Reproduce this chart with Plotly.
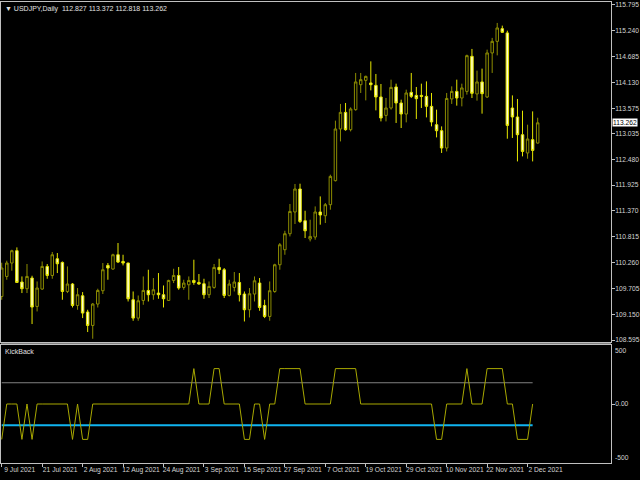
import pandas as pd
import plotly.graph_objects as go

# ---------------- data ----------------
dates = [d.strftime("%Y-%m-%d") for d in pd.bdate_range("2021-07-09", "2021-12-06")]

opens = [109.531, 109.961, 110.249, 110.514, 109.841, 109.697, 109.927, 109.316, 109.690, 110.176,
         109.982, 110.341, 110.262, 109.638, 109.798, 109.337, 109.546, 109.196, 108.908, 109.368,
         109.654, 110.198, 110.120, 110.427, 110.283, 110.249, 109.460, 109.066, 109.445, 109.660,
         109.568, 109.604, 109.568, 109.445, 109.875, 109.982, 109.725, 109.782, 109.875, 109.832,
         109.804, 109.568, 109.725, 110.155, 110.105, 109.553, 109.725, 109.832, 109.583, 109.245,
         109.583, 109.819, 109.337, 109.101, 109.638, 110.212, 110.535, 110.879, 111.346, 111.840,
         111.158, 110.765, 110.808, 111.346, 111.266, 111.503, 112.019, 113.130, 113.487, 113.115,
         113.545, 114.082, 114.175, 114.119, 114.067, 113.818, 113.422, 113.581, 114.033, 113.689,
         113.452, 113.917, 113.852, 113.852, 113.831, 113.616, 113.222, 113.093, 112.721, 113.775,
         113.938, 113.796, 113.938, 114.691, 113.883, 114.141, 113.818, 114.764, 115.013, 115.286,
         115.194, 113.581, 113.388, 113.007, 112.614, 112.900, 112.827]
highs = [110.256, 110.299, 110.535, 110.585, 109.961, 110.228, 109.976, 109.853, 110.283, 110.228,
         110.486, 110.464, 110.283, 110.176, 109.819, 109.712, 109.625, 109.245, 109.389, 109.697,
         110.249, 110.249, 110.449, 110.679, 110.427, 110.256, 109.638, 109.552, 109.961, 110.105,
         109.927, 110.034, 109.767, 109.890, 110.126, 110.163, 109.890, 109.961, 110.320, 110.013,
         109.911, 109.853, 110.228, 110.341, 110.142, 109.890, 110.056, 110.034, 109.638, 109.712,
         109.961, 109.927, 109.460, 109.853, 110.234, 110.679, 110.943, 111.518, 111.948, 111.954,
         111.373, 111.180, 111.466, 111.681, 111.539, 112.148, 113.309, 113.668, 113.689, 113.594,
         114.334, 114.334, 114.276, 114.583, 114.312, 114.097, 113.796, 114.190, 114.104, 113.760,
         113.975, 114.334, 114.033, 114.104, 114.153, 113.904, 113.545, 113.186, 113.904, 114.046,
         114.190, 114.104, 114.728, 114.850, 114.384, 114.427, 114.835, 115.087, 115.409, 115.351,
         115.243, 113.852, 113.775, 113.523, 113.222, 113.508, 113.372]
lows = [109.460, 109.890, 110.084, 109.820, 109.604, 109.604, 108.938, 109.209, 109.675, 109.911,
        109.911, 110.034, 109.460, 109.604, 109.294, 109.245, 109.066, 108.766, 108.622, 109.294,
        109.583, 109.890, 110.105, 110.249, 110.198, 109.423, 109.008, 109.008, 109.352, 109.423,
        109.460, 109.481, 109.294, 109.438, 109.819, 109.675, 109.675, 109.460, 109.782, 109.782,
        109.481, 109.497, 109.697, 110.013, 109.497, 109.531, 109.638, 109.423, 108.993, 109.079,
        109.423, 109.223, 109.066, 109.008, 109.610, 110.105, 110.427, 110.821, 111.088, 111.109,
        110.787, 110.713, 110.750, 111.073, 111.109, 111.395, 112.003, 112.863, 113.093, 113.078,
        113.523, 113.904, 113.745, 113.960, 113.530, 113.293, 113.293, 113.545, 113.259, 113.151,
        113.272, 113.796, 113.345, 113.581, 113.379, 113.186, 112.949, 112.614, 112.648, 113.668,
        113.631, 113.616, 113.868, 113.796, 113.739, 113.459, 113.796, 114.334, 114.712, 115.194,
        112.921, 112.937, 112.433, 112.541, 112.491, 112.433, 112.818]
closes = [110.142, 110.249, 110.514, 109.832, 109.697, 109.961, 109.303, 109.712, 110.176, 109.982,
          110.427, 110.234, 109.638, 109.798, 109.337, 109.568, 109.174, 108.908, 109.368, 109.660,
          110.105, 110.142, 110.427, 110.270, 110.249, 109.481, 109.066, 109.438, 109.660, 109.568,
          109.675, 109.568, 109.481, 109.875, 109.982, 109.712, 109.819, 109.875, 109.832, 109.798,
          109.568, 109.746, 110.155, 110.105, 109.553, 109.798, 109.841, 109.568, 109.245, 109.589,
          109.868, 109.294, 109.101, 109.654, 110.212, 110.642, 110.879, 111.358, 111.840, 111.143,
          110.943, 110.821, 111.346, 111.281, 111.503, 112.111, 113.130, 113.487, 113.115, 113.560,
          114.141, 114.190, 114.261, 114.082, 113.818, 113.366, 113.581, 114.024, 113.689, 113.452,
          113.904, 113.831, 113.781, 113.831, 113.616, 113.281, 113.093, 112.721, 113.786, 113.938,
          113.796, 114.012, 114.706, 113.896, 114.141, 113.889, 114.764, 115.013, 115.301, 115.207,
          113.207, 113.388, 113.007, 112.648, 112.915, 112.670, 113.262]

kickback = [-300, 0, 0, 0, -300, 0, -300, 0, 0, 0,
            0, 0, 0, 0, -300, 0, -300, -300, 0, 0,
            0, 0, 0, 0, 0, 0, 0, 0, 0, 0,
            0, 0, 0, 0, 0, 0, 0, 0, 300, 0,
            0, 0, 300, 300, 0, 0, 0, 0, -300, -300,
            0, 0, -300, 0, 0, 300, 300, 300, 300, 300,
            0, 0, 0, 0, 0, 0, 300, 300, 300, 300,
            300, 0, 0, 0, 0, 0, 0, 0, 0, 0,
            0, 0, 0, 0, 0, 0, -300, -300, 0, 0,
            0, 0, 300, 0, 0, 0, 300, 300, 300, 300,
            0, 0, -300, -300, -300, 0, None]
upper_level = 180
lower_level = -180

price_ticks = [108.595, 109.150, 109.705, 110.260, 110.815, 111.370, 111.925,
               112.480, 113.035, 113.575, 114.130, 114.685, 115.240, 115.795]
date_tick_idx = [0, 8, 16, 24, 32, 40, 48, 56, 64, 72, 80, 88, 96, 104]
date_tick_labels = ["9 Jul 2021", "21 Jul 2021", "2 Aug 2021", "12 Aug 2021", "24 Aug 2021",
                    "3 Sep 2021", "15 Sep 2021", "27 Sep 2021", "7 Oct 2021", "19 Oct 2021",
                    "29 Oct 2021", "10 Nov 2021", "22 Nov 2021", "2 Dec 2021"]
title_text = "USDJPY,Daily  112.827 113.372 112.818 113.262"
last_price = closes[-1]

# ---------------- figure ----------------
FONT = "Liberation Sans, Arial, sans-serif"
TXT = "#d4d4d4"
FRAME = "#c0c0c0"

fig = go.Figure()
fig.add_trace(go.Candlestick(
    x=dates, open=opens, high=highs, low=lows, close=closes,
    increasing=dict(line=dict(color="#8c8c00", width=1), fillcolor="#000000"),
    decreasing=dict(line=dict(color="#e6e600", width=1), fillcolor="#ffffd0"),
    whiskerwidth=0, xaxis="x", yaxis="y", showlegend=False, hoverinfo="skip"))

n_ind = len([v for v in kickback if v is not None])
fig.add_trace(go.Scatter(x=dates[:n_ind], y=[upper_level] * n_ind, mode="lines",
                         line=dict(color="#808080", width=1), xaxis="x2", yaxis="y2",
                         showlegend=False, hoverinfo="skip"))
fig.add_trace(go.Scatter(x=dates[:n_ind], y=[lower_level] * n_ind, mode="lines",
                         line=dict(color="#10b4f0", width=2), xaxis="x2", yaxis="y2",
                         showlegend=False, hoverinfo="skip"))
fig.add_trace(go.Scatter(x=dates, y=kickback, mode="lines",
                         line=dict(color="#a8a800", width=1), xaxis="x2", yaxis="y2",
                         showlegend=False, hoverinfo="skip"))

xr = [-0.14, 120.5]
main_dom = [(463 - 342) / 461, 1]
ind_dom = [0, (463 - 345) / 461]

fig.update_layout(
    width=640, height=480,
    margin=dict(l=1, r=29, t=2, b=17, autoexpand=False),
    paper_bgcolor="#000000", plot_bgcolor="#000000",
    font=dict(family=FONT, size=7, color=TXT),
    xaxis=dict(type="category", range=xr, domain=[0, 1], anchor="y", automargin=False,
               showgrid=False, zeroline=False, showticklabels=False, ticks="",
               showline=True, linecolor=FRAME, linewidth=1, mirror=True,
               rangeslider=dict(visible=False), fixedrange=True),
    xaxis2=dict(type="category", range=xr, domain=[0, 1], anchor="y2", matches="x",
                automargin=False, showgrid=False, zeroline=False,
                tickmode="array", tickvals=[dates[i] for i in date_tick_idx],
                ticktext=date_tick_labels, tickangle=0,
                ticks="outside", ticklen=3, tickcolor=FRAME, ticklabelshift=18,
                ticklabelstandoff=-3,
                tickfont=dict(family=FONT, size=6.7, color=TXT),
                showline=True, linecolor=FRAME, linewidth=1, mirror=True),
    yaxis=dict(domain=main_dom, range=[108.552, 115.859], side="right", anchor="x",
               automargin=False, showgrid=False, zeroline=False,
               tickmode="array", tickvals=price_ticks,
               ticktext=[f"{v:.3f}" for v in price_ticks],
               ticks="outside", ticklen=3, tickcolor=FRAME, ticklabelstandoff=-1,
               tickfont=dict(family=FONT, size=6.7, color=TXT),
               showline=True, linecolor=FRAME, linewidth=1, mirror=True),
    yaxis2=dict(domain=ind_dom, range=[-500, 500], side="right", anchor="x2",
                automargin=False, showgrid=False, zeroline=False,
                tickmode="array", tickvals=[0], ticktext=["0.00"],
                ticks="outside", ticklen=3, tickcolor=FRAME, ticklabelstandoff=-1,
                tickfont=dict(family=FONT, size=6.7, color=TXT),
                showline=True, linecolor=FRAME, linewidth=1, mirror=True),
)

# separator band between the two panes
fig.add_shape(type="rect", xref="paper", yref="paper", x0=0, x1=1,
              y0=ind_dom[1], y1=main_dom[0], fillcolor="#808080", line=dict(width=0),
              layer="below")

annotations = [
    dict(text="\u25bc " + title_text, xref="paper", yref="paper", x=0.004, y=1,
         xanchor="left", yanchor="top", yshift=-1, showarrow=False,
         font=dict(family=FONT, size=7, color="#e0e0e0")),
    dict(text="KickBack", xref="paper", yref="y2 domain", x=0.004, y=1,
         xanchor="left", yanchor="top", yshift=-1, showarrow=False,
         font=dict(family=FONT, size=7, color="#e0e0e0")),
    dict(text="500", xref="paper", yref="y2 domain", x=1, y=1, xanchor="left",
         yanchor="top", xshift=2, showarrow=False,
         font=dict(family=FONT, size=6.7, color=TXT)),
    dict(text="-500", xref="paper", yref="y2 domain", x=1, y=0, xanchor="left",
         yanchor="bottom", xshift=2, showarrow=False,
         font=dict(family=FONT, size=6.7, color=TXT)),
    dict(text=f"{last_price:.3f}", xref="paper", yref="y", x=1, y=last_price,
         xanchor="left", yanchor="middle", xshift=1, showarrow=False,
         bgcolor="#ffffff", borderpad=0,
         font=dict(family=FONT, size=6.7, color="#000000")),
]
fig.update_layout(annotations=annotations)

fig.write_html("out.html", config=dict(displayModeBar=False),
               post_script="document.body.style.margin='0';document.body.style.padding='0';")
